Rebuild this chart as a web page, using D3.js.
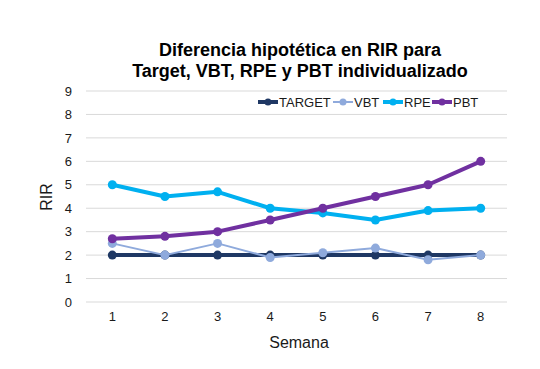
<!DOCTYPE html>
<html><head><meta charset="utf-8">
<script src="https://cdn.jsdelivr.net/npm/d3@7"></script>
<style>body{margin:0;background:#fff}svg{display:block;font-family:"Liberation Sans",Arial,sans-serif}</style>
</head><body><svg id="c" width="540" height="369"></svg>
<script>
const categories = ["1","2","3","4","5","6","7","8"];
const seriesNames = ["TARGET","VBT","RPE","PBT"];
const target = [2,2,2,2,2,2,2,2];
const vbt = [2.5,2.0,2.5,1.9,2.1,2.3,1.8,2.0];
const rpe = [5.0,4.5,4.7,4.0,3.8,3.5,3.9,4.0];
const pbt = [2.7,2.8,3.0,3.5,4.0,4.5,5.0,6.0];
const yTicks = [0,1,2,3,4,5,6,7,8,9];
const colors = ["#1f3864","#8faadc","#00b0f0","#7030a0"];
const widths = [4,2,4,4];

const series = [target,vbt,rpe,pbt].map((v,i)=>({name:seriesNames[i],values:v,color:colors[i],w:widths[i]}));
const svg = d3.select("#c");
const L=86,R=507,T=91,B=302;
const x = d3.scaleBand().domain(categories).range([L,R]);
const y = d3.scaleLinear().domain([0,9]).range([B,T]);

svg.append("g").selectAll("line").data(yTicks).join("line")
  .attr("x1",L).attr("x2",R).attr("y1",d=>y(d)).attr("y2",d=>y(d))
  .attr("stroke","#d9d9d9").attr("stroke-width",1);

const ya = svg.append("g").attr("transform",`translate(${L},0)`).call(d3.axisLeft(y).tickValues(yTicks).tickSize(0).tickPadding(14));
ya.select(".domain").remove();
ya.selectAll("text").attr("fill","#1a1a1a").style("font-size","13px").style("font-family","Liberation Sans, Arial");

const xa = svg.append("g").attr("transform",`translate(0,${B})`).call(d3.axisBottom(x).tickSize(0).tickPadding(10));
xa.select(".domain").remove();
xa.selectAll("text").attr("fill","#1a1a1a").style("font-size","13px").style("font-family","Liberation Sans, Arial");

const line = d3.line().x((d,i)=>x(categories[i])+x.bandwidth()/2).y(d=>y(d));
series.forEach(s=>{
  const g = svg.append("g");
  g.append("path").attr("d",line(s.values)).attr("fill","none").attr("stroke",s.color).attr("stroke-width",s.w).attr("stroke-linejoin","round");
  g.selectAll("circle").data(s.values).join("circle")
    .attr("cx",(d,i)=>x(categories[i])+x.bandwidth()/2).attr("cy",d=>y(d)).attr("r",4.5).attr("fill",s.color);
});

// legend
const legX=[258,333,383,432];
const lg = svg.append("g");
series.forEach((s,i)=>{
  const g = lg.append("g").attr("transform",`translate(${legX[i]},102)`);
  g.append("line").attr("x1",0).attr("x2",20).attr("y1",0).attr("y2",0).attr("stroke",s.color).attr("stroke-width",s.w);
  g.append("circle").attr("cx",10).attr("cy",0).attr("r",3.5).attr("fill",s.color);
  g.append("text").attr("x",21).attr("y",4.5).text(s.name).attr("fill","#1a1a1a").style("font-size","13px");
});

svg.append("text").attr("x",300).attr("y",56).attr("text-anchor","middle").attr("font-weight","bold").style("font-size","18px").attr("fill","#000").text("Diferencia hipotética en RIR para");
svg.append("text").attr("x",300).attr("y",77).attr("text-anchor","middle").attr("font-weight","bold").style("font-size","18px").attr("fill","#000").text("Target, VBT, RPE y PBT individualizado");

svg.append("text").attr("transform","translate(52,197) rotate(-90)").attr("text-anchor","middle").style("font-size","16px").attr("fill","#1a1a1a").text("RIR");
svg.append("text").attr("x",299).attr("y",348).attr("text-anchor","middle").style("font-size","16px").attr("fill","#1a1a1a").text("Semana");
</script></body></html>
